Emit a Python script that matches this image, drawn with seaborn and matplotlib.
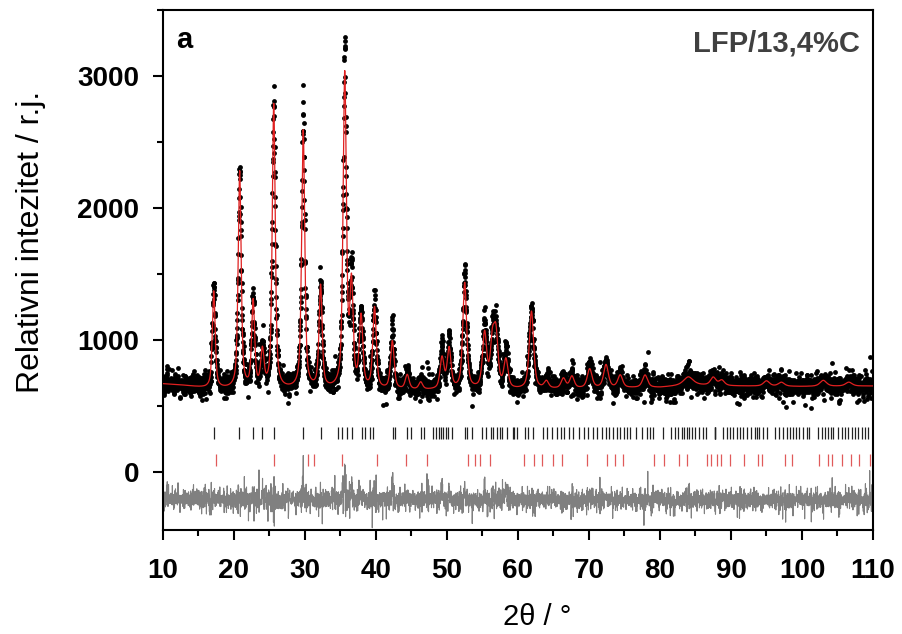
import numpy as np
import pandas as pd
import matplotlib
matplotlib.use("Agg")
import matplotlib.pyplot as plt
import seaborn as sns
from matplotlib.ticker import MultipleLocator

PEAK_POS = [17.15, 20.8, 22.7, 24.0, 25.6, 29.75, 32.2, 35.6, 36.55, 37.9, 39.8, 42.3, 44.4, 46.3,
            49.3, 50.3, 52.5, 55.3, 56.4, 56.9, 58.3, 61.9, 64.0, 66.4, 67.6, 70.1, 72.4, 74.4, 77.9,
            84.0, 87.5, 88.7, 95.0, 97.1, 103.0, 106.6]
PEAK_CALC = [735, 1645, 655, 275, 2155, 1960, 775, 2375, 755, 535, 615, 365, 110, 55,
             235, 305, 805, 415, 330, 380, 215, 590, 55, 75, 90, 145, 175, 95, 95,
             60, 60, 40, 40, 30, 45, 30]
PEAK_OBS = [790, 1685, 705, 300, 2205, 2100, 805, 2570, 875, 575, 655, 440, 150, 60,
            325, 365, 890, 505, 360, 440, 320, 630, 60, 80, 100, 205, 225, 110, 100,
            70, 70, 45, 45, 35, 50, 35]
PEAK_FWHM = [0.48, 0.5, 0.5, 0.55, 0.5, 0.52, 0.52, 0.55, 0.55, 0.58, 0.58, 0.6, 0.65, 0.65,
             0.65, 0.65, 0.65, 0.7, 0.7, 0.7, 0.7, 0.72, 0.75, 0.75, 0.75, 0.8, 0.8, 0.8, 0.85,
             1.6, 0.9, 0.9, 1.0, 1.0, 1.1, 1.1]

# Background level (a.u.) at a few 2theta values
BG_POS = [10, 13, 16, 20, 30, 40, 50, 60, 70, 80, 84, 90, 100, 110]
BG_LEVEL = [668, 655, 635, 625, 622, 618, 618, 622, 632, 640, 660, 652, 648, 652]

# Bragg reflection markers: LiFePO4 (black) and second phase (red)
LFP_TICKS = [17.2, 20.75, 22.7, 24.0, 25.6, 29.7, 32.25, 34.6, 35.2, 35.9, 36.6, 38.0, 38.45, 39.15,
             39.6, 42.35, 42.7, 44.4, 44.9, 46.3, 46.8, 48.1, 48.5, 48.9, 49.2, 49.5, 49.8, 50.2,
             50.7, 52.5, 52.8, 53.5, 55.0, 55.5, 56.2, 56.5, 57.0, 57.5, 57.8, 58.4, 59.25, 59.44,
             59.9, 60.99, 61.45, 62.07, 63.56, 64.13, 64.83, 65.45, 66.01, 66.48, 67.23, 67.8,
             68.63, 69.3, 69.82, 70.61, 71.17, 71.79, 72.35, 72.86, 73.43, 73.9, 74.37, 74.93,
             75.4, 75.77, 76.62, 77.42, 78.12, 78.59, 79.06, 80.38, 81.5, 82.11, 82.58, 83.05,
             83.38, 83.76, 84.13, 84.46, 84.93, 85.54, 86.01, 86.48, 87.7, 87.75, 87.8, 88.92,
             89.39, 89.86, 90.33, 90.8, 91.27, 91.74, 92.31, 92.78, 93.38, 93.62, 93.99, 94.55,
             95.02, 96.2, 96.8, 97.28, 97.84, 98.31, 98.69, 99.15, 99.62, 100.1, 100.66, 101.03,
             102.3, 102.77, 103.24, 103.71, 104.08, 104.41, 105.11, 105.59, 106.06, 106.52,
             107.0, 107.46, 107.93, 108.4, 108.87, 109.34]
PHASE2_TICKS = [17.4, 25.7, 30.4, 31.2, 35.25, 40.2, 44.2, 47.2, 52.9, 53.9, 54.6, 56.05,
                60.8, 62.25, 63.4, 65.0, 66.2, 69.7, 72.5, 73.6, 74.8, 79.1, 80.6, 82.7, 83.8,
                86.6, 87.2, 88.1, 88.6, 89.8, 91.9, 93.8, 94.4, 97.6, 98.6, 102.4, 103.7,
                104.3, 105.7, 106.9, 108.1, 109.6]

DIFF_OFFSET = -210
STEP = 0.02


def pseudo_voigt(x, pos, fwhm, eta=0.6):
    g = np.exp(-4 * np.log(2) * ((x - pos) / fwhm) ** 2)
    l = 1 / (1 + 4 * ((x - pos) / fwhm) ** 2)
    return eta * l + (1 - eta) * g


tth = np.arange(10, 110 + STEP / 2, STEP)
bg = np.interp(tth, BG_POS, BG_LEVEL)
calc = bg.copy()
obs_clean = bg.copy()
for p, hc, ho, w in zip(PEAK_POS, PEAK_CALC, PEAK_OBS, PEAK_FWHM):
    calc += hc * pseudo_voigt(tth, p, w)
    # observed peak tops stick out above the fit in a narrow spike
    obs_clean += hc * pseudo_voigt(tth, p, w) + (ho - hc) * pseudo_voigt(tth, p, 0.18, eta=0.0)

# counting scatter of the measurement
rng = np.random.default_rng(11)
obs = obs_clean + 1.25 * np.sqrt(obs_clean) * rng.standard_t(6, tth.size)

df = pd.DataFrame({"tth": tth, "obs": obs, "calc": calc,
                   "diff": obs - calc + DIFF_OFFSET})

sns.set_theme(style="ticks")
plt.rcParams["font.family"] = ["Liberation Sans", "DejaVu Sans"]

fig = plt.figure(figsize=(9.02, 6.34), dpi=100)
ax = fig.add_axes([0.1807, 0.164, 0.7871, 0.8205])

sns.lineplot(data=df, x="tth", y="diff", color="#808080", lw=0.8, estimator=None,
             errorbar=None, sort=False, ax=ax)
sns.scatterplot(data=df, x="tth", y="obs", color="black", s=12, linewidth=0, ax=ax, zorder=3)
sns.lineplot(data=df, x="tth", y="calc", color="#e02020", lw=0.9, estimator=None,
             errorbar=None, sort=False, ax=ax, zorder=4)

ax.vlines(LFP_TICKS, 250, 340, color="#222222", lw=0.9)
ax.vlines(PHASE2_TICKS, 45, 140, color="#e05a5a", lw=0.9)

ax.set_xlim(10, 110)
ax.set_ylim(-440, 3505)
ax.xaxis.set_major_locator(MultipleLocator(10))
ax.xaxis.set_minor_locator(MultipleLocator(5))
ax.yaxis.set_major_locator(MultipleLocator(1000))
ax.yaxis.set_minor_locator(MultipleLocator(500))
ax.tick_params(which="major", direction="out", length=7, width=1.5, labelsize=20,
               colors="black")
ax.tick_params(axis="x", which="major", pad=13)
ax.tick_params(axis="y", which="major", pad=10)
ax.tick_params(which="minor", direction="out", length=4, width=1.5, colors="black")
for lab in ax.get_xticklabels() + ax.get_yticklabels():
    lab.set_fontweight("bold")
for s in ax.spines.values():
    s.set_linewidth(1.5)
    s.set_color("black")

ax.set_xlabel("2θ / °", fontsize=21, color="black")
ax.set_ylabel("Relativni intezitet / r.j.", fontsize=23, color="black")
ax.xaxis.set_label_coords(0.527, -0.14)
ax.yaxis.set_label_coords(-0.165, 0.554)

ax.text(0.018, 0.968, "a", transform=ax.transAxes, fontsize=21, fontweight="bold",
        ha="left", va="top", color="black")
ax.text(0.982, 0.962, "LFP/13,4%C", transform=ax.transAxes, fontsize=21,
        fontweight="bold", color="#404040", ha="right", va="top")

fig.savefig("out.png", dpi=100)
